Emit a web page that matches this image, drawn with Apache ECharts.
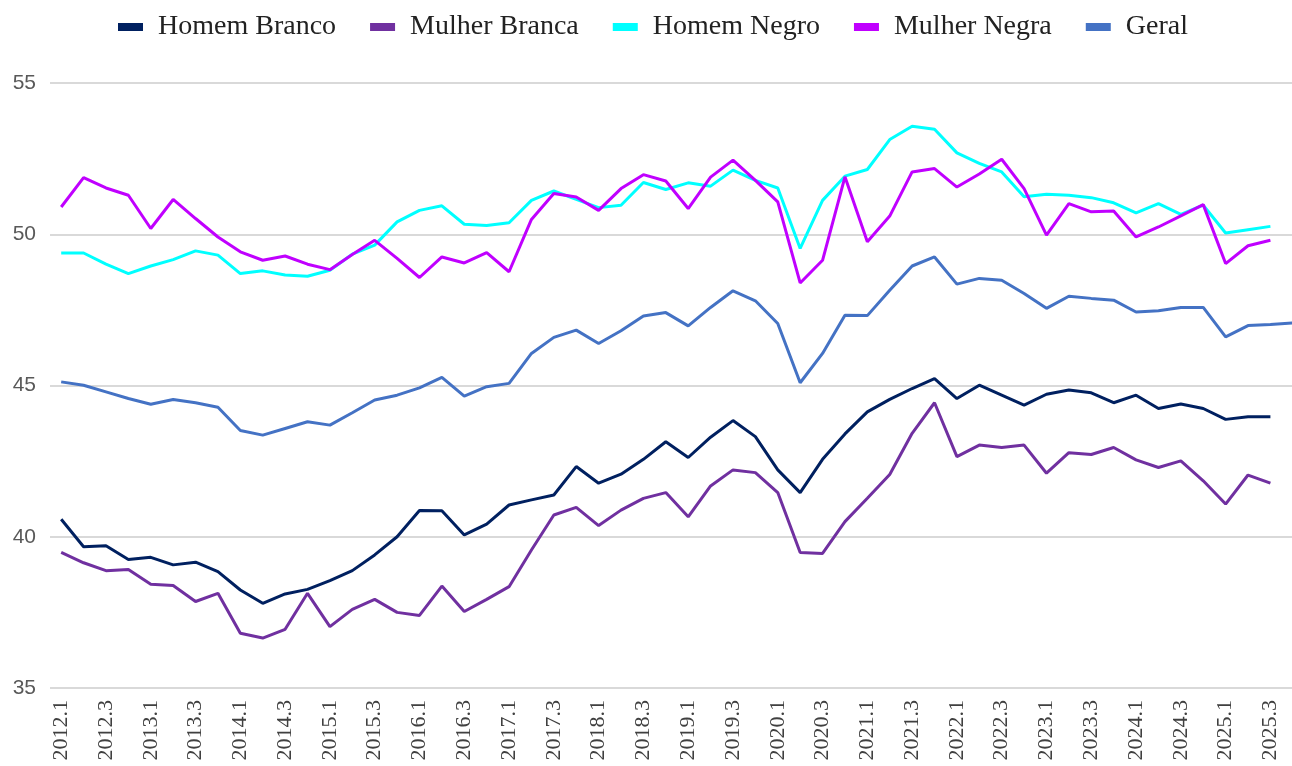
<!DOCTYPE html>
<html>
<head>
<meta charset="utf-8">
<script src="https://cdn.jsdelivr.net/npm/echarts@6/dist/echarts.min.js"></script>
<style>
html,body{margin:0;padding:0;background:#fff;}
#chart{width:1292px;height:766px;}
</style>
</head>
<body>
<div id="chart"></div>
<script>
const categories = [
  '2012.1','2012.2','2012.3','2012.4','2013.1','2013.2','2013.3','2013.4',
  '2014.1','2014.2','2014.3','2014.4','2015.1','2015.2','2015.3','2015.4',
  '2016.1','2016.2','2016.3','2016.4','2017.1','2017.2','2017.3','2017.4',
  '2018.1','2018.2','2018.3','2018.4','2019.1','2019.2','2019.3','2019.4',
  '2020.1','2020.2','2020.3','2020.4','2021.1','2021.2','2021.3','2021.4',
  '2022.1','2022.2','2022.3','2022.4','2023.1','2023.2','2023.3','2023.4',
  '2024.1','2024.2','2024.3','2024.4','2025.1','2025.2','2025.3','2025.4'
];

const homemBranco = [
  40.58, 39.67, 39.70, 39.25, 39.32, 39.07, 39.16, 38.85, 38.24, 37.80, 38.11, 38.26, 38.55, 38.88, 39.40, 40.00, 40.87,
  40.86, 40.06, 40.42, 41.05, 41.22, 41.38, 42.32, 41.77, 42.07, 42.56, 43.14, 42.62, 43.29, 43.84, 43.31, 42.21, 41.46, 42.56, 43.40,
  44.13, 44.54, 44.90, 45.23, 44.57, 45.01, 44.68, 44.35, 44.71, 44.85, 44.76, 44.43, 44.68, 44.24, 44.39, 44.24, 43.88, 43.97, 43.97,
  null
];

const mulherBranca = [
  39.48, 39.14, 38.88, 38.92, 38.43, 38.39, 37.86, 38.13, 36.81, 36.65, 36.94, 38.13, 37.03, 37.60, 37.93, 37.50, 37.40,
  38.37, 37.53, 37.93, 38.35, 39.56, 40.72, 40.97, 40.37, 40.88, 41.27, 41.46, 40.66, 41.68, 42.21, 42.12, 41.46, 39.48, 39.45, 40.50,
  41.27, 42.06, 43.42, 44.43, 42.65, 43.03, 42.95, 43.03, 42.10, 42.78, 42.72, 42.95, 42.54, 42.29, 42.51, 41.85, 41.08, 42.04, 41.77,
  null
];

const homemNegro = [
  49.38, 49.38, 49.01, 48.70, 48.95, 49.16, 49.45, 49.31, 48.70, 48.79, 48.65, 48.61, 48.81, 49.34, 49.64, 50.41, 50.79,
  50.94, 50.33, 50.29, 50.38, 51.12, 51.43, 51.15, 50.88, 50.96, 51.71, 51.48, 51.70, 51.59, 52.12, 51.78, 51.53, 49.53, 51.12, 51.92,
  52.14, 53.13, 53.57, 53.47, 52.69, 52.34, 52.06, 51.24, 51.32, 51.29, 51.21, 51.04, 50.71, 51.01, 50.66, 50.96, 50.04, 50.15, 50.26,
  null
];

const mulherNegra = [
  50.90, 51.87, 51.53, 51.29, 50.19, 51.15, 50.52, 49.91, 49.42, 49.14, 49.28, 49.01, 48.83, 49.33, 49.80, 49.20, 48.57,
  49.25, 49.05, 49.39, 48.76, 50.49, 51.35, 51.23, 50.79, 51.51, 51.97, 51.76, 50.85, 51.89, 52.45, 51.78, 51.07, 48.39, 49.14, 51.90,
  49.75, 50.60, 52.06, 52.17, 51.56, 51.99, 52.48, 51.51, 49.97, 51.01, 50.74, 50.77, 49.91, 50.24, 50.61, 50.98, 49.03, 49.62, 49.80,
  null
];

const geral = [
  45.12, 45.01, 44.79, 44.57, 44.38, 44.54, 44.43, 44.28, 43.51, 43.36, 43.58, 43.80, 43.69, 44.10, 44.52, 44.68, 44.92,
  45.27, 44.65, 44.96, 45.07, 46.06, 46.59, 46.83, 46.39, 46.81, 47.30, 47.41, 46.97, 47.58, 48.13, 47.80, 47.05, 45.09, 46.06, 47.32,
  47.31, 48.15, 48.95, 49.25, 48.35, 48.54, 48.48, 48.04, 47.55, 47.95, 47.88, 47.82, 47.43, 47.47, 47.58, 47.58, 46.61, 46.98, 47.02,
  47.07
];

const seriesNames = ['Homem Branco', 'Mulher Branca', 'Homem Negro', 'Mulher Negra', 'Geral'];
const seriesColors = ['#002060', '#7030a0', '#00ffff', '#c000ff', '#4472c4'];
const seriesData = [homemBranco, mulherBranca, homemNegro, mulherNegra, geral];

const yTicks = { min: 35, max: 55, interval: 5 };

const chart = echarts.init(document.getElementById('chart'), null, { renderer: 'canvas' });

chart.setOption({
  backgroundColor: '#ffffff',
  animation: false,
  color: seriesColors,
  legend: {
    data: seriesNames,
    left: 118,
    top: 13,
    padding: 0,
    icon: 'rect',
    itemWidth: 25,
    itemHeight: 8,
    itemGap: 34,
    textStyle: {
      fontFamily: 'Liberation Serif',
      fontSize: 28,
      color: '#222222',
      padding: [0, 0, 0, 10]
    }
  },
  grid: {
    left: 50,
    top: 83,
    width: 1254,
    height: 605,
    containLabel: false,
    outerBoundsMode: 'none'
  },
  xAxis: {
    type: 'category',
    data: categories,
    boundaryGap: true,
    axisLine: { show: false },
    axisTick: { show: false },
    axisLabel: {
      interval: 1,
      rotate: 90,
      margin: 12,
      fontFamily: 'Liberation Serif',
      fontSize: 22,
      color: '#404040'
    },
    splitLine: { show: false }
  },
  yAxis: {
    type: 'value',
    min: yTicks.min,
    max: yTicks.max,
    interval: yTicks.interval,
    axisLine: { show: false },
    axisTick: { show: false },
    axisLabel: {
      margin: 14,
      fontFamily: 'Liberation Sans',
      fontSize: 21,
      color: '#595959'
    },
    splitLine: { lineStyle: { color: '#d9d9d9', width: 2 } }
  },
  series: seriesNames.map((name, i) => ({
    name: name,
    type: 'line',
    data: seriesData[i],
    symbol: 'none',
    showSymbol: false,
    connectNulls: false,
    lineStyle: { width: 3, color: seriesColors[i] },
    itemStyle: { color: seriesColors[i] }
  }))
});
</script>
</body>
</html>
